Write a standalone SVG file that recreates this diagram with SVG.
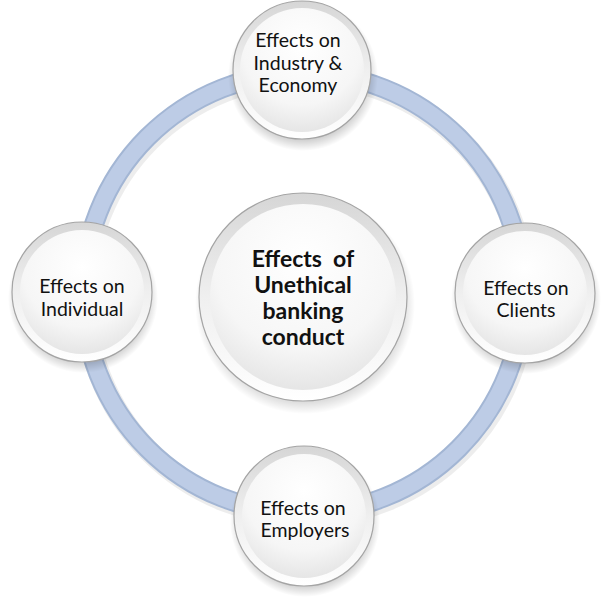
<svg xmlns="http://www.w3.org/2000/svg" width="606" height="600" viewBox="0 0 606 600">
<defs>
<linearGradient id="rim" x1="0" y1="0" x2="0" y2="1">
<stop offset="0" stop-color="#d6d6d6"/>
<stop offset="0.5" stop-color="#efefef"/>
<stop offset="1" stop-color="#ffffff"/>
</linearGradient>
<radialGradient id="face" cx="0.5" cy="0.3" r="0.8">
<stop offset="0" stop-color="#ffffff"/>
<stop offset="0.6" stop-color="#f6f6f6"/>
<stop offset="1" stop-color="#dedede"/>
</radialGradient>
<radialGradient id="shadow" cx="0.5" cy="0.5" r="0.5">
<stop offset="0.82" stop-color="#000" stop-opacity="0.22"/>
<stop offset="1" stop-color="#000" stop-opacity="0"/>
</radialGradient>
</defs>
<style>
.edge{fill:url(#rim);stroke:#a4a4a4;stroke-width:1.2}
.face{fill:url(#face)}
.sh{fill:url(#shadow)}
.t{font-family:Lato,"Liberation Sans",sans-serif;font-size:19.5px;fill:#111;text-anchor:middle}
.tb{font-family:Lato,"Liberation Sans",sans-serif;font-size:23px;font-weight:bold;fill:#111;text-anchor:middle}
.ring{fill:none;stroke:#a3b6d4;stroke-width:20}
.ring2{fill:none;stroke:#bdcce6;stroke-width:16}
</style>
<rect width="606" height="600" fill="#ffffff"/>
<g id="connectors">
<circle cx="305" cy="296" r="220" fill="none" stroke="#000" stroke-opacity="0.07" stroke-width="22"/>
<circle class="ring" cx="303" cy="293" r="220"/>
<circle class="ring2" cx="303" cy="293" r="220"/>
</g>
<g id="center">
<circle class="sh" cx="305" cy="304" r="110"/>
<circle class="edge" cx="303" cy="297" r="104"/>
<circle class="face" cx="303" cy="297" r="93"/>
<text class="tb" x="303" y="267" xml:space="preserve">Effects  of</text>
<text class="tb" x="303" y="293">Unethical</text>
<text class="tb" x="303" y="319">banking</text>
<text class="tb" x="303" y="345">conduct</text>
</g>
<g id="top">
<circle class="sh" cx="303" cy="76" r="75"/>
<circle class="edge" cx="302" cy="70" r="69"/>
<circle class="face" cx="302" cy="70" r="62"/>
<text class="t" x="298" y="47">Effects on</text>
<text class="t" x="298" y="70">Industry &amp;</text>
<text class="t" x="298" y="92">Economy</text>
</g>
<g id="left">
<circle class="sh" cx="83" cy="298" r="75"/>
<circle class="edge" cx="82" cy="292" r="70"/>
<circle class="face" cx="82" cy="292" r="62"/>
<text class="t" x="82" y="293">Effects on</text>
<text class="t" x="82" y="316">Individual</text>
</g>
<g id="right">
<circle class="sh" cx="526" cy="299" r="75"/>
<circle class="edge" cx="525" cy="293" r="70"/>
<circle class="face" cx="525" cy="293" r="62"/>
<text class="t" x="526" y="295">Effects on</text>
<text class="t" x="526" y="317">Clients</text>
</g>
<g id="bottom">
<circle class="sh" cx="305" cy="522" r="75"/>
<circle class="edge" cx="304" cy="516" r="70"/>
<circle class="face" cx="304" cy="516" r="62"/>
<text class="t" x="303" y="515">Effects on</text>
<text class="t" x="305" y="537">Employers</text>
</g>
</svg>
